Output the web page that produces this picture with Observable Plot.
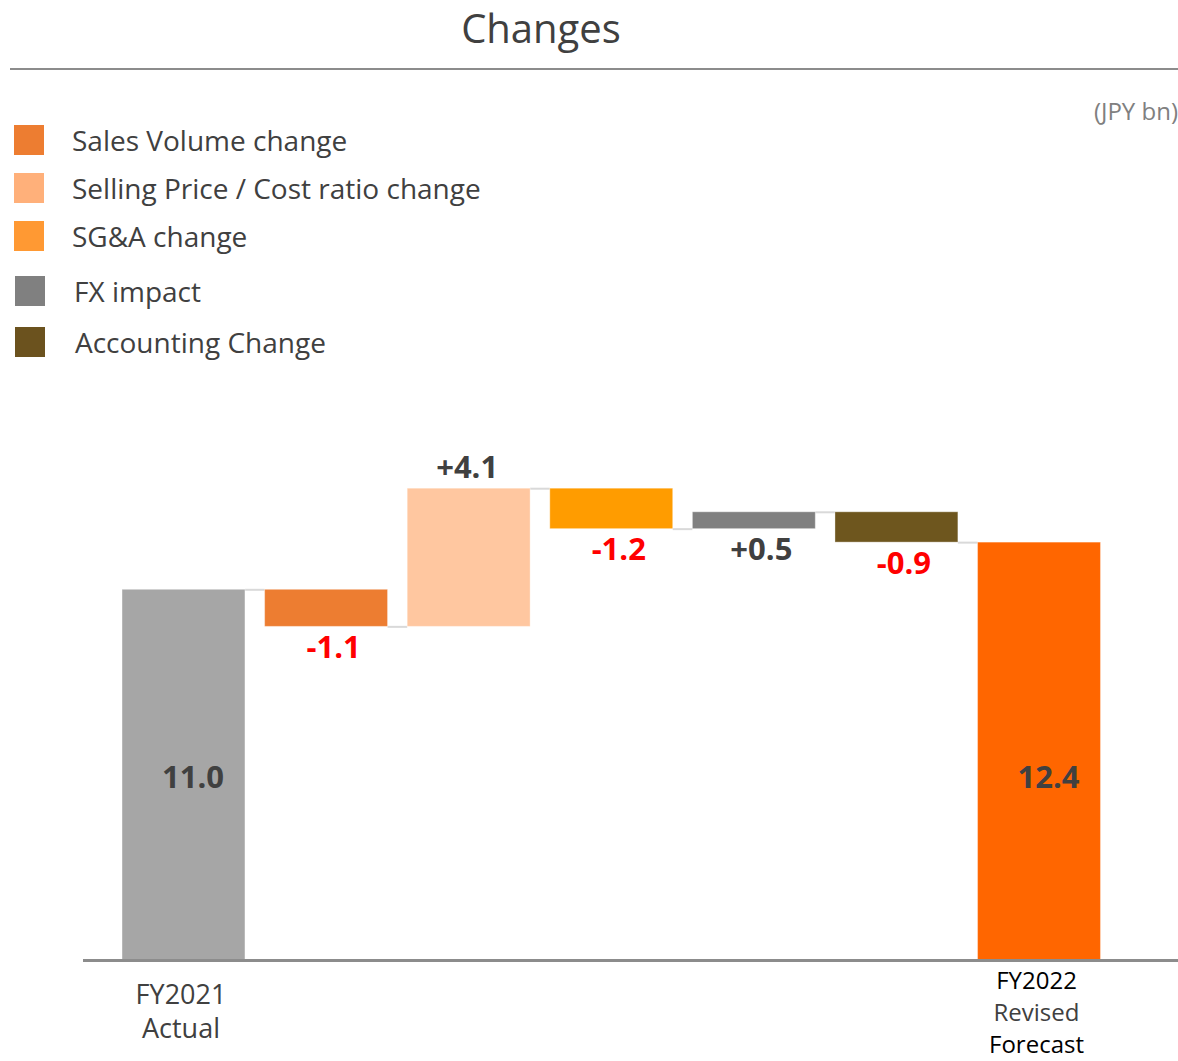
<!DOCTYPE html>
<html>
<head>
<meta charset="utf-8">
<script src="https://cdn.jsdelivr.net/npm/d3@7"></script>
<script src="https://cdn.jsdelivr.net/npm/@observablehq/plot@0.6"></script>
<style>
  html, body { margin: 0; padding: 0; background: #fff; }
  #wrap { position: relative; width: 1178px; height: 1061px; overflow: hidden; font-family: "Open Sans", "Noto Sans", sans-serif; color: #404040; }
  #title { position: absolute; left: 0; width: 1082px; top: 0px; text-align: center; font-size: 40px; font-weight: 400; color: #404040; }
  #rule { position: absolute; left: 10px; width: 1168px; top: 68px; height: 2px; background: #8c8c8c; }
  #unit { position: absolute; right: 0px; top: 94px; font-size: 24px; color: #808080; }
  .leg { position: absolute; left: 14px; height: 30px; display: flex; align-items: center; font-size: 28px; color: #404040; white-space: nowrap; }
  .leg span.sw { display: inline-block; width: 30px; height: 30px; margin-right: 28px; }
  #chart { position: absolute; left: 0; top: 380px; }
</style>
</head>
<body>
<div id="wrap">
  <div id="title">Changes</div>
  <div id="rule"></div>
  <div id="unit">(JPY bn)</div>
  <div id="legend"></div>
  <div id="chart"></div>
</div>
<script>
// ---- data ----
const categories = ["FY2021 Actual", "Sales Volume change", "Selling Price / Cost ratio change", "SG&A change", "FX impact", "Accounting Change", "FY2022 Revised Forecast"];
const kinds = ["total", "change", "change", "change", "change", "change", "total"];
const values = [11.0, -1.1, 4.1, -1.2, 0.5, -0.9, 12.4];
const barColors = ["#A6A6A6", "#ED7D31", "#FFC7A0", "#FF9C00", "#808080", "#6E561E", "#FF6600"];
const legendLabels = ["Sales Volume change", "Selling Price / Cost ratio change", "SG&A change", "FX impact", "Accounting Change"];
const legendColors = ["#ED7D31", "#FFB07A", "#FF9933", "#808080", "#6B521E"];
const tickLabels = [["FY2021", "Actual"], [], [], [], [], [], ["FY2022", "Revised", "Forecast"]];
const tickColors = [["#404040", "#404040"], [], [], [], [], [], ["#000000", "#404040", "#000000"]];

// ---- legend (HTML) ----
const legendTops = [125, 173, 221, 276, 327];
const legendTextLeft = [72, 72, 72, 74, 75];
const legendSwLeft = [14, 14, 14, 15, 15];
const legEl = document.getElementById("legend");
legendLabels.forEach((l, i) => {
  const d = document.createElement("div");
  d.className = "leg";
  d.style.top = legendTops[i] + "px";
  d.style.left = legendSwLeft[i] + "px";
  d.innerHTML = `<span class="sw" style="background:${legendColors[i]};margin-right:${legendTextLeft[i] - legendSwLeft[i] - 30}px"></span>${l}`;
  legEl.appendChild(d);
});

// ---- waterfall table ----
const halfW = 0.431;
let cum = 0;
const bars = categories.map((c, i) => {
  let y1, y2;
  if (kinds[i] === "total") { y1 = 0; y2 = values[i]; cum = values[i]; }
  else { y1 = cum; y2 = cum + values[i]; cum = y2; }
  return { i, cat: c, kind: kinds[i], value: values[i], y1, y2, end: cum, color: barColors[i] };
});
const connectors = bars.slice(0, -1).map(b => ({ x1: b.i + halfW, x2: b.i + 1 - halfW, y: b.end }));

const fmt = v => (v > 0 ? "+" : "") + v.toFixed(1);
const changeLabels = bars.filter(b => b.kind === "change").map(b => {
  const above = b.value > 0 && b.i === 2;
  return {
    i: b.i, text: fmt(b.value), pos: above ? "above" : "below",
    y: above ? Math.max(b.y1, b.y2) : Math.min(b.y1, b.y2),
    color: b.value < 0 ? "#FF0000" : "#404040"
  };
});
const totalLabels = bars.filter(b => b.kind === "total").map(b => ({ i: b.i, text: b.value.toFixed(1) }));

const tickRows = [];
tickLabels.forEach((lines, i) => lines.forEach((t, k) => tickRows.push({ i, k, text: t, color: tickColors[i][k] })));

const H = 681;
const base = 580;
const pxPerUnit = 33.7;

const tickMarks = [];
// FY2021 rows start 35px below baseline, 34px apart; FY2022 rows 21px below, 32px apart
[[0, 35, 34, 27], [6, 21, 32, 24]].forEach(([ci, start, step, fs]) => {
  [0, 1, 2].forEach(k => {
    tickMarks.push(Plot.text(tickRows.filter(r => r.i === ci && r.k === k), {
      x: "i", y: () => 0, text: "text", fill: "color", fontSize: fs, dy: start + k * step, dx: -3
    }));
  });
});

const chart = Plot.plot({
  width: 1178,
  height: H,
  marginTop: 0,
  marginBottom: H - base,
  marginLeft: 83,
  marginRight: 0,
  x: { type: "linear", domain: [-0.5, 6.5], range: [112.2, 1110.3], axis: null },
  y: { domain: [0, base / pxPerUnit], axis: null },
  style: { fontFamily: "'Open Sans', 'Noto Sans', sans-serif", background: "transparent" },
  marks: [
    Plot.ruleY(connectors, { x1: "x1", x2: "x2", y: "y", stroke: "#D9D9D9", strokeWidth: 2 }),
    Plot.rectY(bars, { x1: d => d.i - halfW, x2: d => d.i + halfW, y1: "y1", y2: "y2", fill: "color", stroke: "#ffffff", strokeOpacity: 0.35, strokeWidth: 1 }),
    Plot.ruleY([0], { stroke: "#8c8c8c", strokeWidth: 3 }),
    Plot.text(changeLabels.filter(d => d.pos === "below"), { x: "i", y: "y", text: "text", fill: "color", fontSize: 31, fontWeight: 700, lineAnchor: "top", dy: 9, dx: 7 }),
    Plot.text(changeLabels.filter(d => d.pos === "above"), { x: "i", y: "y", text: "text", fill: "color", fontSize: 31, fontWeight: 700, lineAnchor: "bottom", dy: -11, dx: -2 }),
    Plot.text(totalLabels, { x: "i", y: () => 5.4, text: "text", fill: "#404040", fontSize: 31, fontWeight: 700, dx: 9 }),
    ...tickMarks
  ]
});
document.getElementById("chart").appendChild(chart);
</script>
</body>
</html>
